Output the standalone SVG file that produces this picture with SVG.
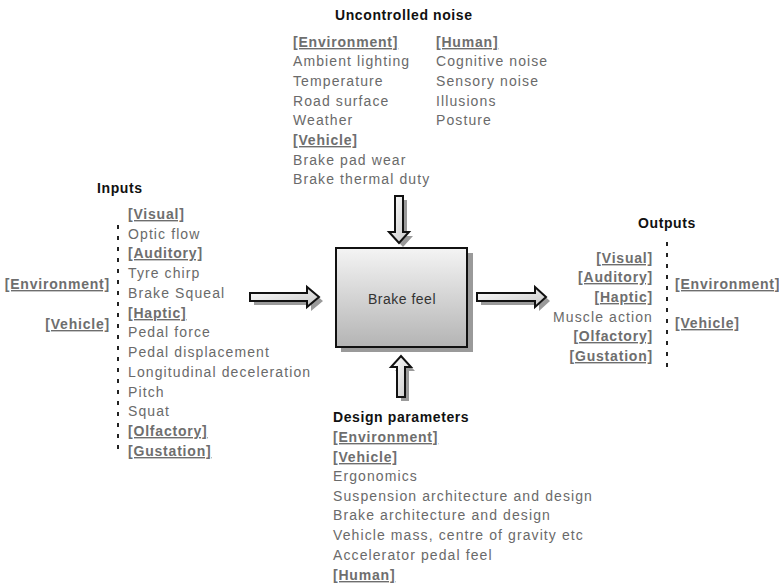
<svg xmlns="http://www.w3.org/2000/svg" width="779" height="584" viewBox="0 0 779 584">
<defs>
<linearGradient id="boxg" x1="0" y1="0" x2="0" y2="1">
<stop offset="0" stop-color="#f4f4f4"/>
<stop offset="1" stop-color="#b4b4b4"/>
</linearGradient>
<linearGradient id="arrg" x1="0" y1="0" x2="1" y2="1">
<stop offset="0" stop-color="#ffffff"/>
<stop offset="1" stop-color="#c8c8c8"/>
</linearGradient>
</defs>
<style>
text{font-family:"Liberation Sans",Arial,sans-serif;font-size:14px;fill:#6a6a6a;letter-spacing:1.1px}
.h{font-weight:bold;fill:#111;letter-spacing:0.6px}
.b{font-weight:bold;fill:#6e6e6e;text-decoration:underline;letter-spacing:0.8px}
.r{text-anchor:end}
.dots{stroke:#222;stroke-width:2;stroke-dasharray:4 7;fill:none}
.arr{fill:url(#arrg);stroke:#111;stroke-width:2;stroke-linejoin:miter}
.sh{fill:#9a9a9a}
</style>
<rect width="779" height="584" fill="#fff"/>

<g id="noise">
<text class="h" x="335" y="20">Uncontrolled noise</text>
<text class="b" x="293" y="47">[Environment]</text>
<text x="293" y="66">Ambient lighting</text>
<text x="293" y="86">Temperature</text>
<text x="293" y="106">Road surface</text>
<text x="293" y="125">Weather</text>
<text class="b" x="293" y="145">[Vehicle]</text>
<text x="293" y="165">Brake pad wear</text>
<text x="293" y="184">Brake thermal duty</text>
<text class="b" x="436" y="47">[Human]</text>
<text x="436" y="66">Cognitive noise</text>
<text x="436" y="86">Sensory noise</text>
<text x="436" y="106">Illusions</text>
<text x="436" y="125">Posture</text>
</g>

<g id="inputs">
<text class="h" x="97" y="193">Inputs</text>
<text class="b r" x="110" y="289">[Environment]</text>
<text class="b r" x="110" y="329">[Vehicle]</text>
<line class="dots" x1="118" y1="225" x2="118" y2="453"/>
<text class="b" x="128" y="219">[Visual]</text>
<text x="128" y="239">Optic flow</text>
<text class="b" x="128" y="258">[Auditory]</text>
<text x="128" y="278">Tyre chirp</text>
<text x="128" y="298">Brake Squeal</text>
<text class="b" x="128" y="318">[Haptic]</text>
<text x="128" y="337">Pedal force</text>
<text x="128" y="357">Pedal displacement</text>
<text x="128" y="377">Longitudinal deceleration</text>
<text x="128" y="397">Pitch</text>
<text x="128" y="416">Squat</text>
<text class="b" x="128" y="436">[Olfactory]</text>
<text class="b" x="128" y="456">[Gustation]</text>
</g>

<g id="brake-feel">
<rect x="341" y="253" width="132" height="99" fill="#9a9a9a"/>
<rect x="336" y="248" width="131" height="99" fill="url(#boxg)" stroke="#111" stroke-width="2"/>
<text x="402" y="304" text-anchor="middle" style="fill:#333;letter-spacing:0.5px">Brake feel</text>
</g>

<g id="outputs">
<text class="h" x="638" y="228">Outputs</text>
<line class="dots" x1="667" y1="242" x2="667" y2="373"/>
<text class="b r" x="653" y="263">[Visual]</text>
<text class="b r" x="653" y="282">[Auditory]</text>
<text class="b r" x="653" y="302">[Haptic]</text>
<text class="r" x="653" y="322">Muscle action</text>
<text class="b r" x="653" y="341">[Olfactory]</text>
<text class="b r" x="653" y="361">[Gustation]</text>
<text class="b" x="675" y="289">[Environment]</text>
<text class="b" x="675" y="328">[Vehicle]</text>
</g>

<g id="design">
<text class="h" x="333" y="422">Design parameters</text>
<text class="b" x="333" y="442">[Environment]</text>
<text class="b" x="333" y="462">[Vehicle]</text>
<text x="333" y="481">Ergonomics</text>
<text x="333" y="501">Suspension architecture and design</text>
<text x="333" y="520">Brake architecture and design</text>
<text x="333" y="540">Vehicle mass, centre of gravity etc</text>
<text x="333" y="560">Accelerator pedal feel</text>
<text class="b" x="333" y="580">[Human]</text>
</g>

<g id="connectors">
<g transform="translate(4,4)">
<path class="sh" d="M250,293 H307 V287 L319,297 L307,307 V301 H250 Z"/>
<path class="sh" d="M477,293 H535 V287 L546,297 L535,307 V301 H477 Z"/>
<path class="sh" d="M395,196 V232 H389 L399,243 L409,232 H403 V196 Z"/>
<path class="sh" d="M397,397 V367 H391 L401,356 L411,367 H405 V397 Z"/>
</g>
<path class="arr" d="M250,293 H307 V287 L319,297 L307,307 V301 H250 Z"/>
<path class="arr" d="M477,293 H535 V287 L546,297 L535,307 V301 H477 Z"/>
<path class="arr" d="M395,196 V232 H389 L399,243 L409,232 H403 V196 Z"/>
<path class="arr" d="M397,397 V367 H391 L401,356 L411,367 H405 V397 Z"/>
</g>
</svg>
